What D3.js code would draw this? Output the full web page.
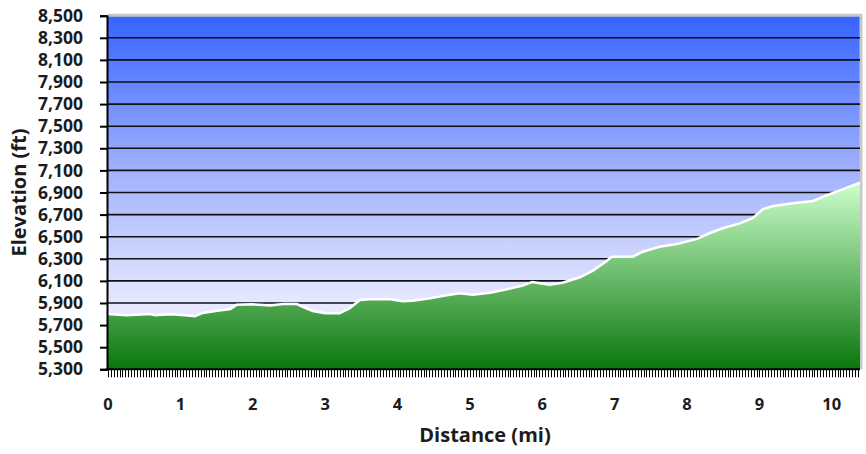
<!DOCTYPE html>
<html>
<head>
<meta charset="utf-8">
<script src="https://cdn.jsdelivr.net/npm/d3@7"></script>
<style>
  body { margin: 0; background: #fff; }
  text { font-family: "Open Sans", sans-serif; font-weight: 700; fill: #1c1c1c; }
</style>
</head>
<body>
<svg id="chart" width="866" height="454"></svg>
<script>
// distance along the trail (miles) and elevation (feet)
var distMi = [0, 0.26, 0.58, 0.65, 0.86, 1.06, 1.2, 1.31, 1.51, 1.69, 1.78, 2.0, 2.24, 2.42, 2.61, 2.69,
  2.83, 3.0, 3.2, 3.34, 3.48, 3.62, 3.9, 4.07, 4.21, 4.45, 4.68, 4.86, 5.04, 5.28, 5.51, 5.73,
  5.86, 5.97, 6.1, 6.28, 6.52, 6.7, 6.89, 6.96, 7.25, 7.39, 7.62, 7.86, 8.14, 8.31, 8.49, 8.73,
  8.91, 9.05, 9.19, 9.46, 9.74, 9.93, 10.15, 10.36, 10.39]
var elevFt = [5800, 5790, 5800, 5790, 5798, 5790, 5780, 5810, 5830, 5845, 5885, 5888, 5878, 5890, 5890, 5866,
  5828, 5807, 5807, 5852, 5927, 5933, 5933, 5915, 5921, 5942, 5970, 5988, 5975, 5993, 6024, 6057,
  6090, 6078, 6066, 6084, 6133, 6193, 6280, 6319, 6319, 6364, 6409, 6434, 6480, 6531, 6576, 6621,
  6670, 6750, 6778, 6802, 6823, 6875, 6929, 6983, 6990]

var yTickValues = [5300, 5500, 5700, 5900, 6100, 6300, 6500, 6700, 6900, 7100, 7300, 7500, 7700, 7900, 8100, 8300, 8500]
var xTickValues = [0, 1, 2, 3, 4, 5, 6, 7, 8, 9, 10]

var svg = d3.select("#chart")
var pl = 108, pr = 860, pt = 15.7, pb = 369.3

var x = d3.scaleLinear().domain([0, 10.39]).range([pl, pr])
var y = d3.scaleLinear().domain([5300, 8500]).range([pb, pt])

var data = distMi.map(function(d, i) { return {d: d, e: elevFt[i]} })

// gradients for the sky and the ground
var defs = svg.append("defs")
var sky = defs.append("linearGradient").attr("id", "sky")
  .attr("x1", 0).attr("y1", 0).attr("x2", 0).attr("y2", 1)
sky.append("stop").attr("offset", "0%").attr("stop-color", "#3563ff")
sky.append("stop").attr("offset", "45%").attr("stop-color", "#a4b3fd")
sky.append("stop").attr("offset", "80%").attr("stop-color", "#e4e7fe")
sky.append("stop").attr("offset", "100%").attr("stop-color", "#f2f2ff")

var ground = defs.append("linearGradient").attr("id", "ground")
  .attr("x1", 0).attr("y1", 0).attr("x2", 0).attr("y2", 1)
ground.append("stop").attr("offset", "0%").attr("stop-color", "#ccffcc")
ground.append("stop").attr("offset", "100%").attr("stop-color", "#0a760c")

// plot background
svg.append("rect")
  .attr("x", pl).attr("y", pt)
  .attr("width", pr - pl).attr("height", pb - pt)
  .attr("fill", "url(#sky)")

// grey frame on top and right
svg.append("path")
  .attr("d", "M" + pl + "," + (pt - 0.5) + "H" + (pr + 1) + "V" + pb)
  .attr("fill", "none").attr("stroke", "#c8c8c8").attr("stroke-width", 3)

// horizontal grid lines, behind the profile
svg.append("g").selectAll("line")
  .data(yTickValues.filter(function(v) { return v > 5300 && v < 8500 }))
  .join("line")
  .attr("x1", pl).attr("x2", pr)
  .attr("y1", function(v) { return y(v) }).attr("y2", function(v) { return y(v) })
  .attr("stroke", "#111").attr("stroke-width", 1.6)

// elevation profile
var area = d3.area()
  .x(function(p) { return x(p.d) })
  .y0(pb)
  .y1(function(p) { return y(p.e) })
svg.append("path").datum(data)
  .attr("d", area)
  .attr("fill", "url(#ground)")

var line = d3.line()
  .x(function(p) { return x(p.d) })
  .y(function(p) { return y(p.e) })
svg.append("path").datum(data)
  .attr("d", line)
  .attr("fill", "none").attr("stroke", "#fff").attr("stroke-width", 2.5)

// y axis
var yAxis = svg.append("g")
  .attr("transform", "translate(" + (pl - 1) + ",0)")
  .call(d3.axisLeft(y).tickValues(yTickValues).tickSize(7).tickPadding(17)
    .tickFormat(d3.format(",")))
yAxis.select(".domain").attr("stroke", "#000").attr("stroke-width", 2)
yAxis.selectAll(".tick line").attr("stroke", "#000").attr("stroke-width", 2)
yAxis.selectAll(".tick text")
  .style("font-size", "17.5px").style("font-family", "Open Sans").style("font-weight", 700)
  .attr("fill", "#1c1c1c")

// x axis: dense minor ticks plus labels for every mile
var minor = d3.range(0, 10.39, 0.04)
svg.append("g").selectAll("line")
  .data(minor)
  .join("line")
  .attr("x1", function(v) { return Math.round(x(v)) + 0.5 })
  .attr("x2", function(v) { return Math.round(x(v)) + 0.5 })
  .attr("y1", pb).attr("y2", pb + 8)
  .attr("stroke", "#000").attr("stroke-width", 1)

svg.append("line")
  .attr("x1", pl - 2).attr("x2", pr)
  .attr("y1", pb).attr("y2", pb)
  .attr("stroke", "#000").attr("stroke-width", 2)

svg.append("g").selectAll("text")
  .data(xTickValues)
  .join("text")
  .attr("x", function(v) { return x(v) })
  .attr("y", 410)
  .attr("text-anchor", "middle")
  .style("font-size", "16.5px")
  .text(function(v) { return v })

// axis titles
svg.append("text")
  .attr("x", 485).attr("y", 442)
  .attr("text-anchor", "middle")
  .style("font-size", "20px")
  .text("Distance (mi)")

svg.append("text")
  .attr("transform", "translate(26," + ((pt + pb) / 2) + ") rotate(-90)")
  .attr("text-anchor", "middle")
  .style("font-size", "20px")
  .text("Elevation (ft)")
</script>
</body>
</html>
